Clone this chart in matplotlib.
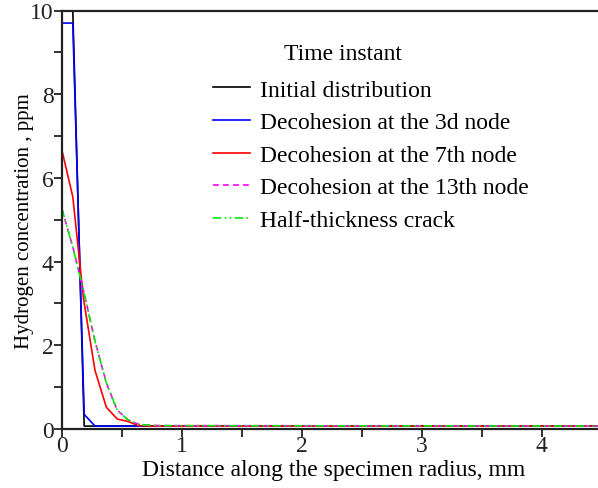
import matplotlib
matplotlib.use('Agg')
import matplotlib.pyplot as plt
import numpy as np
from matplotlib.ticker import MultipleLocator

# 数据
x_init = [0.0, 0.09, 0.185, 0.275, 4.5]
c_init = [10.0, 10.0, 0.07, 0.07, 0.07]
x_3d = [0.0, 0.09, 0.185, 0.275, 4.5]
c_3d = [9.7, 9.7, 0.35, 0.07, 0.07]
x_7th = [0.0, 0.09, 0.18, 0.275, 0.37, 0.46, 0.55, 0.64, 0.73, 4.5]
c_7th = [6.65, 5.55, 3.1, 1.4, 0.52, 0.24, 0.18, 0.08, 0.07, 0.07]
x_13th = [0.0, 0.09, 0.18, 0.275, 0.37, 0.46, 0.55, 0.64, 0.73, 0.82, 4.5]
c_13th = [5.25, 4.35, 3.3, 2.1, 1.1, 0.45, 0.22, 0.11, 0.09, 0.08, 0.07]
x_half = [0.0, 0.09, 0.18, 0.275, 0.37, 0.46, 0.55, 0.64, 0.73, 0.82, 4.5]
c_half = [5.25, 4.35, 3.3, 2.1, 1.1, 0.45, 0.22, 0.11, 0.09, 0.08, 0.07]
labels = ["Initial distribution", "Decohesion at the 3d node",
          "Decohesion at the 7th node", "Decohesion at the 13th node",
          "Half-thickness crack"]
legend_title = "Time instant"

plt.rcParams['font.family'] = ['Liberation Serif', 'DejaVu Serif']

fig = plt.figure(figsize=(5.98, 4.89), dpi=100)
ax = fig.add_axes([62 / 598, 59 / 489, 1 - 62 / 598, (430 - 11.5) / 489])

ax.plot(x_init, c_init, color='black', lw=1.2, label=labels[0])
ax.plot(x_3d, c_3d, color='blue', lw=1.2, label=labels[1])
ax.plot(x_7th, c_7th, color='red', lw=1.2, label=labels[2])
ax.plot(x_13th, c_13th, color='magenta', lw=1.2, ls=(0, (3.5, 2.5)), label=labels[3])
ax.plot(x_half, c_half, color='#00ee00', lw=1.2, ls=(0, (5, 2, 1, 2, 1, 2)), label=labels[4])

ax.set_xlim(0, 4.47)
ax.set_ylim(0, 10)
ax.xaxis.set_major_locator(MultipleLocator(1))
ax.xaxis.set_minor_locator(MultipleLocator(0.5))
ax.yaxis.set_major_locator(MultipleLocator(2))
ax.yaxis.set_minor_locator(MultipleLocator(1))
ax.tick_params(which='both', direction='out', length=6, width=1.3, labelsize=17, colors='#222222')
ax.tick_params(axis='x', pad=-2)
ax.tick_params(axis='y', pad=0)
for s in ['left', 'bottom', 'top']:
    ax.spines[s].set_linewidth(1.6)
    ax.spines[s].set_color('#222222')
ax.spines['right'].set_visible(False)

ax.set_xlabel("Distance along the specimen radius, mm", size=17)
ax.set_ylabel("Hydrogen concentration , ppm", size=15)
ax.xaxis.set_label_coords(0.506, -0.072)
ax.yaxis.set_label_coords(-0.052, 0.5)

# 图例（标题单独放，位置与原图一致）
leg = ax.legend(loc='center left', bbox_to_anchor=(0.242, 0.6547),
                frameon=False, fontsize=17, handlelength=1.55,
                handletextpad=0.45, labelspacing=0.47)
fig.text(343 / 598, 1 - 55 / 489, legend_title, ha='center', va='center', fontsize=17)

fig.savefig("out.png", dpi=100)
